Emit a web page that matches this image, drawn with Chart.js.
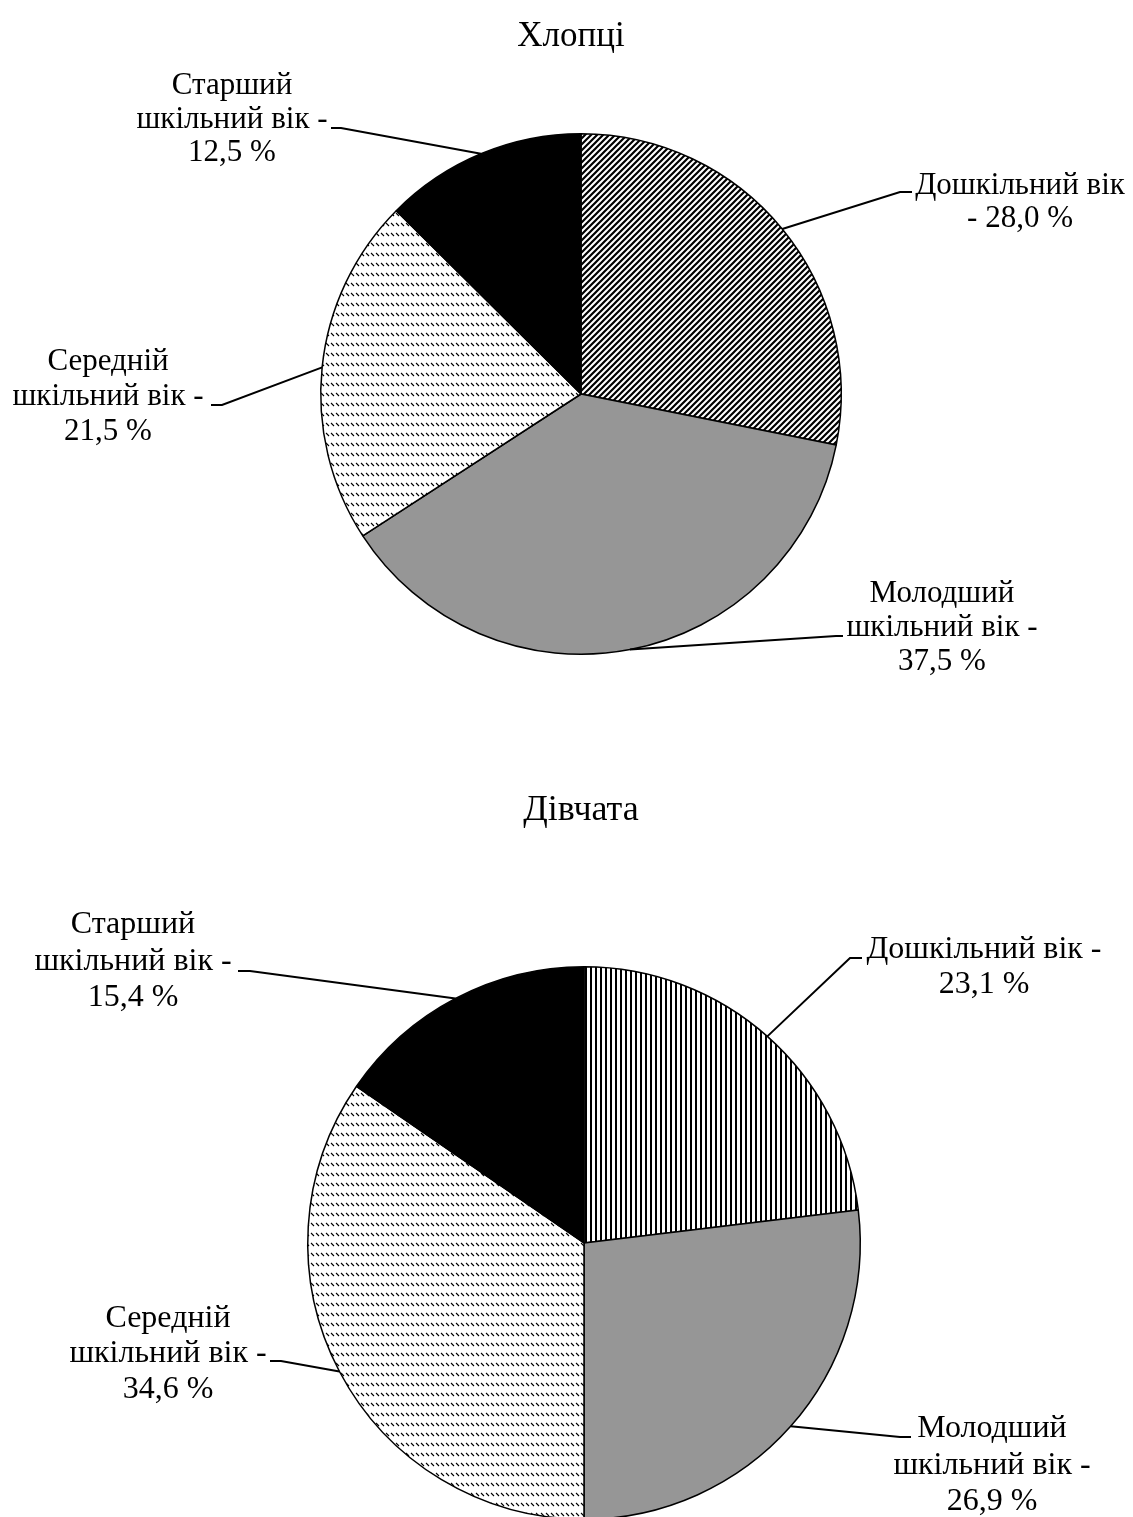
<!DOCTYPE html>
<html>
<head>
<meta charset="utf-8">
<script src="https://cdn.jsdelivr.net/npm/chart.js@4"></script>
<style>
  html, body { margin: 0; padding: 0; background: #fff; overflow: hidden; }
  body { width: 1133px; height: 1517px; position: relative; }
  canvas { position: absolute; left: 0; }
  #boys { top: 0; }
  #girls { top: 700px; }
</style>
</head>
<body>
<canvas id="boys" width="1133" height="700"></canvas>
<canvas id="girls" width="1133" height="820"></canvas>
<script>
const categories = ['Дошкільний вік', 'Молодший шкільний вік', 'Середній шкільний вік', 'Старший шкільний вік'];
const boysValues = [28.0, 37.5, 21.5, 12.5];
const girlsValues = [23.1, 26.9, 34.6, 15.4];
const chartTitles = ['Хлопці', 'Дівчата'];

const SERIF = '"Liberation Serif", "Times New Roman", serif';

// fill patterns
function makePattern(w, h, draw) {
  const c = document.createElement('canvas');
  c.width = w; c.height = h;
  const g = c.getContext('2d');
  g.fillStyle = '#fff';
  g.fillRect(0, 0, w, h);
  draw(g);
  return g.createPattern(c, 'repeat');
}

const diagHatch = makePattern(6, 6, g => {
  g.strokeStyle = '#000';
  g.lineWidth = 2.2;
  g.beginPath();
  g.moveTo(-1, 7); g.lineTo(7, -1);
  g.moveTo(-1, 1); g.lineTo(1, -1);
  g.moveTo(5, 7); g.lineTo(7, 5);
  g.stroke();
});

const dashHatch = makePattern(5, 10, g => {
  g.strokeStyle = '#000';
  g.lineWidth = 1.1;
  g.beginPath();
  g.moveTo(1, 3); g.lineTo(4, 6);
  g.stroke();
});

const vertHatch = makePattern(5, 5, g => {
  g.fillStyle = '#000';
  g.fillRect(0, 0, 2, 5);
});

const GRAY = '#969696';

function fmt(v) {
  return v.toFixed(1).replace('.', ',');
}

// leader lines + multi-line labels + title
const leaderLabels = {
  id: 'leaderLabels',
  afterDraw(chart, args, opts) {
    const ctx = chart.ctx;
    const meta = chart.getDatasetMeta(0);
    const values = chart.data.datasets[0].data;
    ctx.save();
    ctx.fillStyle = '#000';
    ctx.textAlign = 'center';
    ctx.textBaseline = 'alphabetic';
    ctx.font = opts.titleFont;
    ctx.fillText(opts.title, opts.titleX, opts.titleY);

    ctx.font = opts.font;
    meta.data.forEach((arc, i) => {
      const lab = opts.labels[i];
      const p = arc.getProps(['x', 'y', 'startAngle', 'endAngle', 'outerRadius'], true);
      const mid = (p.startAngle + p.endAngle) / 2;
      const ex = p.x + Math.cos(mid) * p.outerRadius;
      const ey = p.y + Math.sin(mid) * p.outerRadius;
      ctx.strokeStyle = '#000';
      ctx.lineWidth = 2;
      ctx.beginPath();
      ctx.moveTo(ex, ey);
      ctx.lineTo(lab.stub[0], lab.stub[2]);
      ctx.lineTo(lab.stub[1], lab.stub[2]);
      ctx.stroke();

      lab.lines.forEach((s, k) => {
        ctx.fillText(s.replace('{v}', fmt(values[i])), lab.x, lab.y[k]);
      });
    });
    ctx.restore();
  }
};

function makePie(id, values, fills, padding, labelOpts) {
  return new Chart(document.getElementById(id), {
    type: 'pie',
    data: {
      labels: categories,
      datasets: [{
        data: values,
        backgroundColor: fills,
        borderColor: '#000',
        borderWidth: 1.5,
        hoverBorderWidth: 1.5
      }]
    },
    options: {
      responsive: false,
      animation: false,
      events: [],
      layout: { padding: padding },
      plugins: {
        legend: { display: false },
        tooltip: { enabled: false },
        leaderLabels: labelOpts
      }
    },
    plugins: [leaderLabels]
  });
}

makePie('boys', boysValues, [diagHatch, GRAY, dashHatch, '#000'],
  { left: 320, top: 133, right: 291, bottom: 45 },
  {
    font: '31px ' + SERIF, titleFont: '35px ' + SERIF,
    title: chartTitles[0], titleX: 571, titleY: 46,
    labels: [
      { x: 1020, y: [194, 227], lines: ['Дошкільний вік', '- {v} %'], stub: [900, 912, 192] },
      { x: 942, y: [602, 636, 670], lines: ['Молодший', 'шкільний вік -', '{v} %'], stub: [836, 843, 636] },
      { x: 108, y: [370, 405, 440], lines: ['Середній', 'шкільний вік -', '{v} %'], stub: [222, 211, 405] },
      { x: 232, y: [94, 128, 161], lines: ['Старший', 'шкільний вік -', '{v} %'], stub: [341, 331, 128] }
    ]
  });

// second chart canvas starts 700px down the page
makePie('girls', girlsValues, [vertHatch, GRAY, dashHatch, '#000'],
  { left: 307, top: 266, right: 272, bottom: 0 },
  {
    font: '32px ' + SERIF, titleFont: '36px ' + SERIF,
    title: chartTitles[1], titleX: 581, titleY: 120,
    labels: [
      { x: 984, y: [258, 293], lines: ['Дошкільний вік -', '{v} %'], stub: [850, 862, 258] },
      { x: 992, y: [737, 774, 810], lines: ['Молодший', 'шкільний вік -', '{v} %'], stub: [900, 911, 737] },
      { x: 168, y: [627, 662, 698], lines: ['Середній', 'шкільний вік -', '{v} %'], stub: [281, 270, 661] },
      { x: 133, y: [233, 270, 306], lines: ['Старший', 'шкільний вік -', '{v} %'], stub: [250, 238, 271] }
    ]
  });
</script>
</body>
</html>
